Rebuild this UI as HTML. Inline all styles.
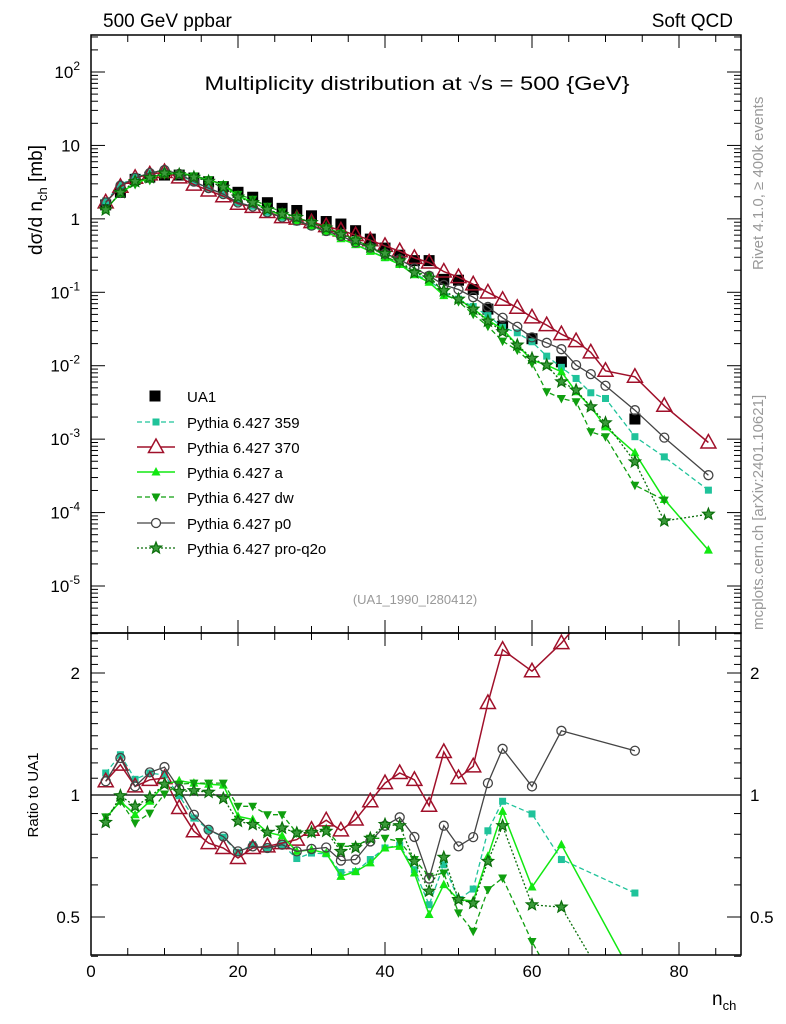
<!DOCTYPE html>
<html><head><meta charset="utf-8">
<style>
html,body{margin:0;padding:0;background:#fff;width:786px;height:1024px;overflow:hidden;}
svg{display:block;font-family:"Liberation Sans","DejaVu Sans",sans-serif;}
</style></head>
<body>
<svg id="chart" width="786" height="1024" viewBox="0 0 786 1024" xmlns="http://www.w3.org/2000/svg">
<defs>
<clipPath id="clipMain"><rect x="91" y="35" width="650" height="598"/></clipPath>
<clipPath id="clipRatio"><rect x="91" y="633" width="650" height="322"/></clipPath>
</defs>
<text x="103" y="27" font-size="19">500 GeV ppbar</text>
<text x="733" y="27" font-size="19" text-anchor="end">Soft QCD</text>
<text x="417" y="90" font-size="19" text-anchor="middle" textLength="425" lengthAdjust="spacingAndGlyphs">Multiplicity distribution at √s = 500 {GeV}</text>
<text transform="translate(763,270) rotate(-90)" font-size="15" fill="#999">Rivet 4.1.0, ≥ 400k events</text>
<text transform="translate(763,630) rotate(-90)" font-size="15" fill="#999">mcplots.cern.ch [arXiv:2401.10621]</text>
<text x="415" y="604" font-size="13" fill="#999" text-anchor="middle">(UA1_1990_I280412)</text>
<text transform="translate(42,200) rotate(-90)" font-size="19" text-anchor="middle">dσ/d n<tspan font-size="13" dy="5">ch</tspan><tspan dy="-5"> [mb]</tspan></text>
<text transform="translate(38,795) rotate(-90)" font-size="15" text-anchor="middle">Ratio to UA1</text>
<text x="712" y="1005" font-size="19">n<tspan font-size="13" dy="5">ch</tspan></text>
<g id="axes"></g>
<g id="mainMarks" clip-path="url(#clipMain)"></g>
<g id="ratioMarks" clip-path="url(#clipRatio)"></g>
<g id="legend"></g>
<rect x="91" y="35" width="650" height="598" fill="none" stroke="#000" stroke-width="1.5"/>
<rect x="91" y="633" width="650" height="322" fill="none" stroke="#000" stroke-width="1.5"/>
</svg>
<script>
// ---- data ----
const nchData = [2,4,6,8,10,12,14,16,18,20,22,24,26,28,30,32,34,36,38,40,42,44,46,48,50,52,54,56,60,64,74];
const ua1Values = [1.55,2.3,3.45,3.7,3.95,3.95,3.6,3.2,2.75,2.3,1.97,1.66,1.39,1.30,1.1,0.92,0.85,0.69,0.53,0.40,0.32,0.27,0.27,0.15,0.146,0.109,0.059,0.0346,0.0233,0.0113,0.00188];
const ratio359 = [1.133,1.257,1.093,1.133,1.12,0.996,0.877,0.821,0.787,0.722,0.754,0.740,0.754,0.697,0.719,0.716,0.644,0.647,0.693,0.740,0.752,0.654,0.536,0.673,0.552,0.586,0.816,0.965,0.898,0.693,0.573];
const ratio370 = [1.081,1.188,1.05,1.09,1.101,0.929,0.814,0.761,0.740,0.699,0.740,0.747,0.761,0.776,0.821,0.866,0.818,0.870,0.965,1.070,1.133,1.09,0.941,1.277,1.101,1.177,1.687,2.283,2.02,2.37,3.9];
const ratioA = [0.877,0.965,0.894,0.965,1.063,1.084,1.07,1.063,1.058,0.886,0.870,0.809,0.793,0.726,0.733,0.719,0.630,0.647,0.680,0.740,0.747,0.642,0.507,0.601,0.552,0.548,0.706,0.911,0.593,0.754,0.35];
const ratioDW = [0.883,0.965,0.853,0.902,1.006,1.063,1.07,1.07,1.07,0.938,0.938,0.894,0.894,0.806,0.806,0.821,0.747,0.747,0.782,0.782,0.768,0.693,0.630,0.642,0.512,0.461,0.584,0.624,0.435,0.32,0.13];
const ratioP0 = [1.081,1.234,1.05,1.137,1.172,1.035,0.894,0.821,0.79,0.726,0.747,0.740,0.754,0.726,0.736,0.742,0.689,0.693,0.768,0.840,0.881,0.788,0.622,0.840,0.747,0.787,1.070,1.30,1.05,1.44,1.286];
const ratioQ2O = [0.856,0.996,0.938,0.987,1.063,1.02,1.025,1.016,0.981,0.861,0.846,0.809,0.829,0.806,0.809,0.814,0.726,0.742,0.782,0.846,0.840,0.686,0.579,0.702,0.552,0.541,0.686,0.840,0.536,0.529,0.26];
const nchTail = [58,60,62,64,66,68,70,74,78,84];
const tail359 = [0.0281,0.0212,0.0135,0.0095,0.00671,0.00428,0.00358,0.00108,0.000574,0.000202];
const tail370 = [0.0615,0.0455,0.0357,0.0269,0.0216,0.0152,0.00853,0.00707,0.00285,0.000900];
const tailA = [0.0191,0.0119,0.0102,0.00826,0.00442,0.00276,0.00147,0.000652,0.000151,0.0000308];
const tailDW = [0.0163,0.0107,0.00442,0.00358,0.00323,0.00126,0.00108,0.000236,0.000148,null];
const tailP0 = [0.0339,0.0243,0.0205,0.0168,0.0102,0.00769,0.00533,0.00248,0.00105,0.000323];
const tailQ2O = [0.0191,0.0126,0.0102,0.00604,0.00466,0.00276,0.00167,0.000491,0.0000771,0.0000951];
const xTickLabels = ["0","20","40","60","80"];
const yTickLabels = ["10^-5","10^-4","10^-3","10^-2","10^-1","1","10","10^2"];
const ratioTickLabels = ["0.5","1","2"];

const X = n => 91 + n * 7.35;
const Y = v => 72 + (2 - Math.log10(v)) * 73.43;
const R = r => 795 - Math.log2(r) * 122;
const NS = "http://www.w3.org/2000/svg";
function mk(tag, attrs, parent) {
  const e = document.createElementNS(NS, tag);
  for (const k in attrs) e.setAttribute(k, attrs[k]);
  parent.appendChild(e);
  return e;
}
const axes = document.getElementById('axes');
const mainG = document.getElementById('mainMarks');
const ratioG = document.getElementById('ratioMarks');
const legG = document.getElementById('legend');

for (let n = 0; n <= 88; n += 5) {
  const major = n % 20 === 0;
  const L = major ? 13 : 7;
  const x = X(n);
  let t = mk('line', {x1:x, y1:955, x2:x, y2:955-L, stroke:'#000', 'stroke-width':1}, axes);
  
  
  t = mk('line', {x1:x, y1:633, x2:x, y2:633+L, stroke:'#000', 'stroke-width':1}, axes);
  
  
  t = mk('line', {x1:x, y1:633, x2:x, y2:633-L, stroke:'#000', 'stroke-width':1}, axes);
  
  
  t = mk('line', {x1:x, y1:35, x2:x, y2:35+L, stroke:'#000', 'stroke-width':1}, axes);
  
  
}
xTickLabels.forEach((lab, i) => {
  const t = mk('text', {x:X(i*20), y:977, 'font-size':17, 'text-anchor':'middle'}, axes);
  
  
  t.textContent = lab;
});
for (let d = -6; d <= 2; d++) {
  for (let m = 1; m <= 9; m++) {
    const v = m * Math.pow(10, d);
    const y = Y(v);
    if (y < 35 || y > 633) continue;
    const L = m === 1 ? 14 : 7;
    let t = mk('line', {x1:91, y1:y, x2:91+L, y2:y, stroke:'#000', 'stroke-width':1}, axes);
    
    
    t = mk('line', {x1:741, y1:y, x2:741-L, y2:y, stroke:'#000', 'stroke-width':1}, axes);
    
    
  }
}
yTickLabels.forEach((lab, i) => {
  const y = Y(Math.pow(10, i - 5)) + 6;
  const t = mk('text', {x:80, y:y, 'font-size':17, 'text-anchor':'end'}, axes);
  
  
  const p = lab.split('^');
  t.textContent = p[0];
  if (p[1]) { const s = mk('tspan', {dy:-8, 'font-size':12}, t); s.textContent = p[1]; }
});
for (let k = 4; k <= 25; k++) {
  const r = k / 10;
  const y = R(r);
  const major = (k === 5 || k === 10 || k === 20);
  const L = major ? 14 : 7;
  let t = mk('line', {x1:91, y1:y, x2:91+L, y2:y, stroke:'#000', 'stroke-width':1}, axes);
  
  
  t = mk('line', {x1:741, y1:y, x2:741-L, y2:y, stroke:'#000', 'stroke-width':1}, axes);
  
  
}
ratioTickLabels.forEach(lab => {
  const y = R(parseFloat(lab)) + 6;
  let t = mk('text', {x:80, y:y, 'font-size':17, 'text-anchor':'end'}, axes);
  
  
  t.textContent = lab;
  t = mk('text', {x:750, y:y, 'font-size':17}, axes);
  
  
  t.textContent = lab;
});
let ref = mk('line', {x1:91, y1:R(1), x2:741, y2:R(1), stroke:'#000', 'stroke-width':1.3}, ratioG);



function marker(g, type, x, y, color) {
  let e;
  if (type === 'bigsquare') e = mk('rect', {x:x-5.5, y:y-5.5, width:11, height:11, fill:'#000'}, g);
  else if (type === 'square') e = mk('rect', {x:x-3.5, y:y-3.5, width:7, height:7, fill:color}, g);
  else if (type === 'opentri') e = mk('polygon', {points:`${x},${y-8} ${x-7.5},${y+5.5} ${x+7.5},${y+5.5}`, fill:'none', stroke:color, 'stroke-width':1.5}, g);
  else if (type === 'tri') e = mk('polygon', {points:`${x},${y-5} ${x-4.5},${y+3.5} ${x+4.5},${y+3.5}`, fill:color}, g);
  else if (type === 'tridown') e = mk('polygon', {points:`${x},${y+5} ${x-4.5},${y-3.5} ${x+4.5},${y-3.5}`, fill:color}, g);
  else if (type === 'circle') e = mk('circle', {cx:x, cy:y, r:4.5, fill:'none', stroke:color, 'stroke-width':1.3}, g);
  else if (type === 'star') {
    let pts = [];
    for (let i = 0; i < 10; i++) {
      const a = -Math.PI/2 + i * Math.PI/5;
      const rr = i % 2 ? 2.6 : 6;
      pts.push((x + rr*Math.cos(a)).toFixed(1) + ',' + (y + rr*Math.sin(a)).toFixed(1));
    }
    e = mk('polygon', {points:pts.join(' '), fill:'#3a9a3a', stroke:color, 'stroke-width':1.2}, g);
  }
  return e;
}
const series = [
  {name:'359', label:'Pythia 6.427 359', ratio:ratio359, tail:tail359, color:'#1fc39a', dash:'5,3', mk:'square', w:1.3},
  {name:'370', label:'Pythia 6.427 370', ratio:ratio370, tail:tail370, color:'#a0102a', dash:'', mk:'opentri', w:1.5},
  {name:'a', label:'Pythia 6.427 a', ratio:ratioA, tail:tailA, color:'#12e812', dash:'', mk:'tri', w:1.5},
  {name:'dw', label:'Pythia 6.427 dw', ratio:ratioDW, tail:tailDW, color:'#0f9f0f', dash:'5,3', mk:'tridown', w:1.3},
  {name:'p0', label:'Pythia 6.427 p0', ratio:ratioP0, tail:tailP0, color:'#444', dash:'', mk:'circle', w:1.3},
  {name:'pro-q2o', label:'Pythia 6.427 pro-q2o', ratio:ratioQ2O, tail:tailQ2O, color:'#0a6e0a', dash:'2,2', mk:'star', w:1.3}
];
function drawLine(g, pts, s, nm) {
  if (pts.length < 2) return;
  const p = mk('polyline', {points:pts.map(q => q[0].toFixed(1)+','+q[1].toFixed(1)).join(' '), fill:'none', stroke:s.color, 'stroke-width':s.w}, g);
  if (s.dash) p.setAttribute('stroke-dasharray', s.dash);
  
  
}
nchData.forEach((n, i) => {
  const e = marker(mainG, 'bigsquare', X(n), Y(ua1Values[i]), '#000');
  
  
});
series.forEach(s => {
  const mainPts = [];
  nchData.forEach((n, i) => {
    if (n > 56 || s.ratio[i] == null) return;
    mainPts.push([X(n), Y(ua1Values[i] * s.ratio[i])]);
  });
  nchTail.forEach((n, i) => { if (s.tail[i] != null) mainPts.push([X(n), Y(s.tail[i])]); });
  drawLine(mainG, mainPts, s, 'line-' + s.name);
  mainPts.forEach(q => {
    const e = marker(mainG, s.mk, q[0], q[1], s.color);
    
    
  });
  const rPts = [];
  nchData.forEach((n, i) => { if (s.ratio[i] != null) rPts.push([X(n), R(s.ratio[i])]); });
  drawLine(ratioG, rPts, s, 'ratio-line-' + s.name);
  rPts.forEach(q => {
    const e = marker(ratioG, s.mk, q[0], q[1], s.color);
    
    
  });
});

const legY = [396, 422, 447, 472, 497, 523, 548];
let le = marker(legG, 'bigsquare', 155, legY[0], '#000');


let lt = mk('text', {x:187, y:legY[0]+6, 'font-size':15}, legG);


lt.textContent = 'UA1';
series.forEach((s, i) => {
  const y = legY[i+1];
  const l = mk('line', {x1:137, y1:y, x2:175, y2:y, stroke:s.color, 'stroke-width':s.w}, legG);
  if (s.dash) l.setAttribute('stroke-dasharray', s.dash);
  
  
  const m = marker(legG, s.mk, 156, y, s.color);
  if (s.mk === 'opentri' || s.mk === 'circle') m.setAttribute('fill', '#fff');
  
  
  const t = mk('text', {x:187, y:y+6, 'font-size':15}, legG);
  
  
  t.textContent = s.label;
});
</script>
</body></html>
